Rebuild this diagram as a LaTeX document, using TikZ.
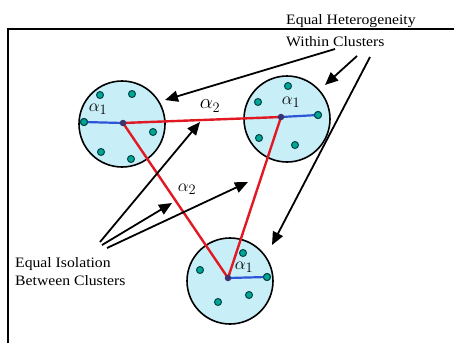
\documentclass[tikz,border=0pt]{standalone}
\usepackage{fontspec}
\setmainfont{Liberation Serif}[FakeStretch=1.09]
\usetikzlibrary{arrows.meta}
\definecolor{clfill}{RGB}{200,238,248}
\definecolor{ptfill}{RGB}{0,165,150}
\definecolor{ptdraw}{RGB}{0,70,70}
\definecolor{redl}{RGB}{225,25,35}
\definecolor{bluel}{RGB}{45,85,215}
\definecolor{ctr}{RGB}{60,50,110}
\begin{document}
\begin{tikzpicture}[x=1pt,y=-1pt,
  cluster/.style={circle,draw=black,line width=1.6pt,fill=clfill,minimum size=86pt,inner sep=0pt},
  pt/.style={circle,draw=ptdraw,fill=ptfill,line width=1pt,minimum size=7pt,inner sep=0pt},
  ctrdot/.style={circle,fill=ctr,minimum size=6.5pt,inner sep=0pt},
  redline/.style={draw=redl,line width=2.4pt},
  blueline/.style={draw=bluel,line width=2.2pt},
  arr/.style={line width=1.8pt,-{Triangle[length=13pt,width=11pt]}},
  lbl/.style={font=\fontsize{14.4}{18}\selectfont,inner sep=0pt,anchor=base west},
  alab/.style={font=\fontsize{19}{20}\selectfont,inner sep=0pt}]
\useasboundingbox (0,0) rectangle (454,343);
% frame
\draw[line width=1.3pt] (8,343) -- (8,29) -- (454,29);
% clusters
\node[cluster] (c1) at (122,124) {};
\node[cluster] (c2) at (287,119) {};
\node[cluster] (c3) at (230,281) {};
% centres
\coordinate (m1) at (123,123);
\coordinate (m2) at (281,117);
\coordinate (m3) at (228,278);
% points
\node[pt] (p11) at (84,122) {};
\node[pt] (p12) at (100,95) {};
\node[pt] (p13) at (132,94) {};
\node[pt] (p14) at (153,132) {};
\node[pt] (p15) at (101,152) {};
\node[pt] (p16) at (131,159) {};
\node[pt] (p21) at (318,115) {};
\node[pt] (p22) at (288,86) {};
\node[pt] (p23) at (258,102) {};
\node[pt] (p24) at (259,138) {};
\node[pt] (p25) at (295,145) {};
\node[pt] (p31) at (267,277) {};
\node[pt] (p32) at (243,253) {};
\node[pt] (p33) at (200,270) {};
\node[pt] (p34) at (249,295) {};
\node[pt] (p35) at (218,302) {};
% isolation lines
\draw[redline] (m1) -- (m2) -- (m3) -- cycle;
% heterogeneity radii
\draw[blueline] (m1) -- (p11.center);
\draw[blueline] (m2) -- (p21.center);
\draw[blueline] (m3) -- (p31.center);
\node[pt] at (p11) {};
\node[pt] at (p21) {};
\node[pt] at (p31) {};
\node[ctrdot] (d1) at (m1) {};
\node[ctrdot] (d2) at (m2) {};
\node[ctrdot] (d3) at (m3) {};
% alpha labels
\node[alab] (a11) at (98,109) {$\alpha_1$};
\node[alab] (a12) at (291,102) {$\alpha_1$};
\node[alab] (a13) at (244,267) {$\alpha_1$};
\node[alab,font=\fontsize{22}{24}\selectfont] (a21) at (210,106) {$\alpha_2$};
\node[alab] (a22) at (187,189) {$\alpha_2$};
% text labels
\node[lbl] (het1) at (286,24) {Equal Heterogeneity};
\node[lbl] (het2) at (286,46) {Within Clusters};
\node[lbl] (iso1) at (15,267) {Equal Isolation};
\node[lbl] (iso2) at (15,285) {Between Clusters};
% arrows from heterogeneity label
\coordinate (hs1) at (335,49);
\coordinate (hs2) at (357,56);
\coordinate (hs3) at (370,57);
\coordinate (he1) at (165,100);
\coordinate (he2) at (325,85);
\coordinate (he3) at (272,245);
\draw[arr] (hs1) -- (he1);
\draw[arr] (hs2) -- (he2);
\draw[arr] (hs3) -- (he3);
% arrows from isolation label
\coordinate (is1) at (100,242);
\coordinate (is2) at (102,245);
\coordinate (is3) at (107,248);
\coordinate (ie1) at (200,122);
\coordinate (ie2) at (172,203);
\coordinate (ie3) at (248,182);
\draw[arr] (is1) -- (ie1);
\draw[arr] (is2) -- (ie2);
\draw[arr] (is3) -- (ie3);
\end{tikzpicture}
\end{document}
